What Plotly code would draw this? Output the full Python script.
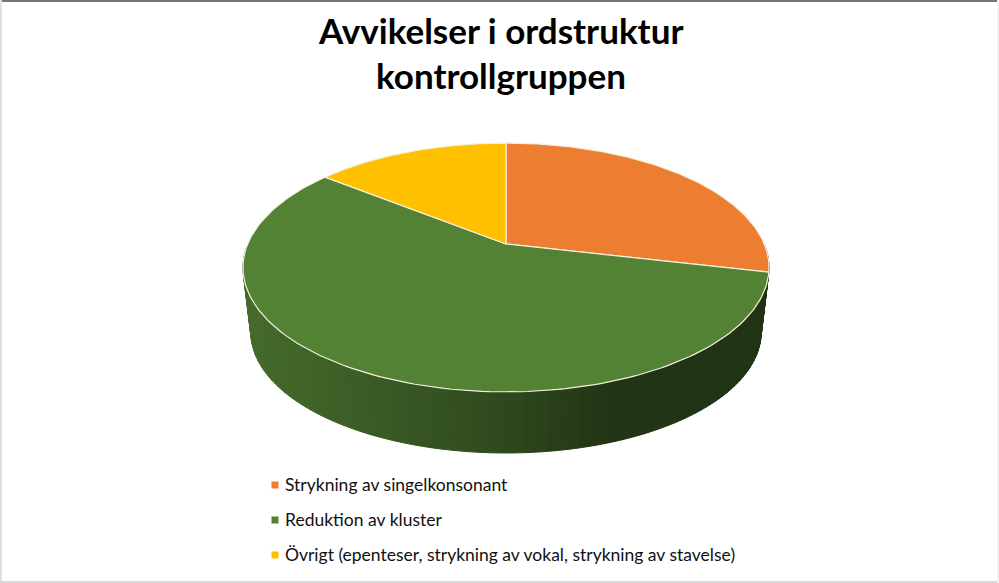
import numpy as np
import plotly.graph_objects as go

categories = [
    "Strykning av singelkonsonant",
    "Reduktion av kluster",
    "Övrigt (epenteser, strykning av vokal, strykning av stavelse)",
]
values = [28.6, 57.1, 14.3]
colors = ["#ED7D31", "#548235", "#FFC000"]
title_lines = ["Avvikelser i ordstruktur", "kontrollgruppen"]

# perspective of the tilted disc, in pixels of the 999x583 page
CX, CY = 506, 244
A, B, K = 258.3, 120.0, 0.1888
WALL_SCALE, WALL_CY = 0.97, 309.5
EDGE = "#F3F0DC"


def top_rim(theta):
    x, y = np.sin(theta), -np.cos(theta)
    d = 1 - K * y
    return CX + A * x / d, CY + B * y / d


def bottom_rim(theta):
    sx, sy = top_rim(theta)
    return CX + (sx - CX) * WALL_SCALE, WALL_CY + (sy - CY) * WALL_SCALE


def shaded(hex_color, factor):
    rgb = [int(hex_color[i:i + 2], 16) for i in (1, 3, 5)]
    return "rgb({},{},{})".format(*[round(c * factor) for c in rgb])


fig = go.Figure()

fractions = np.cumsum([0] + values) / sum(values)
edges = fractions * 2 * np.pi

# side wall, cut in thin strips to get the gradient
steps = np.radians(np.arange(90, 270, 1.5))
for t0, t1 in zip(steps[:-1], steps[1:]):
    x0, y0 = top_rim(t0)
    x1, y1 = top_rim(t1)
    bx0, by0 = bottom_rim(t0)
    bx1, by1 = bottom_rim(t1)
    idx = np.searchsorted(edges, (t0 + t1) / 2) - 1
    factor = np.interp((x0 + x1) / 2, [243, 400, 510, 610, 769], [0.82, 0.67, 0.55, 0.4, 0.39])
    col = shaded(colors[idx], factor)
    fig.add_trace(go.Scatter(
        x=[x0, x1, bx1, bx0, x0], y=[y0, y1, by1, by0, y0],
        mode="lines", fill="toself", fillcolor=col,
        line=dict(color=col, width=1), hoverinfo="skip", showlegend=False,
    ))

# top face
for i, cat in enumerate(categories):
    t = np.linspace(edges[i], edges[i + 1], 150)
    sx, sy = top_rim(t)
    fig.add_trace(go.Scatter(
        x=np.r_[CX, sx, CX], y=np.r_[CY, sy, CY],
        mode="lines", fill="toself", fillcolor=colors[i],
        line=dict(color=EDGE, width=1.2), name=cat, text=cat,
        hoverinfo="text", showlegend=False,
    ))

# legend, spaced by hand because the plotly one can't sit this tight
legend_x = 275
legend_y = [484, 519, 554]
fig.add_trace(go.Scatter(
    x=[legend_x] * 3, y=[485, 520, 555], mode="markers",
    marker=dict(symbol="square", size=7, color=colors),
    hoverinfo="skip", showlegend=False,
))
for cat, y in zip(categories, legend_y):
    fig.add_annotation(
        x=283, y=y, text=cat, showarrow=False, xanchor="left", yanchor="middle",
        font=dict(family="Lato", size=17.5, color="#111111"),
    )

for line, y in zip(title_lines, [29.5, 74.5]):
    fig.add_annotation(
        x=500.5, y=y, text=line, showarrow=False, xanchor="center", yanchor="middle",
        font=dict(family="Lato", size=35, color="black", weight="bold"),
    )

# thin frame of the screenshot
frame = [
    (0, 0, 999, 2, "#777777"),
    (0, 0, 2, 583, "#E0E0E0"),
    (0, 581, 999, 583, "#D9D9D9"),
    (997, 0, 999, 583, "#F0F0F0"),
]
shapes = [
    dict(type="rect", x0=a, y0=b, x1=c, y1=d, fillcolor=col, line_width=0, layer="below")
    for a, b, c, d, col in frame
]

fig.update_layout(
    xaxis=dict(range=[0, 999], visible=False, fixedrange=True),
    yaxis=dict(range=[583, 0], visible=False, fixedrange=True),
    margin=dict(l=0, r=0, t=0, b=0),
    width=999, height=583,
    paper_bgcolor="white", plot_bgcolor="white",
    shapes=shapes,
)

fig.write_html("out.html", post_script="document.body.style.margin='0';", config={"displayModeBar": False})
